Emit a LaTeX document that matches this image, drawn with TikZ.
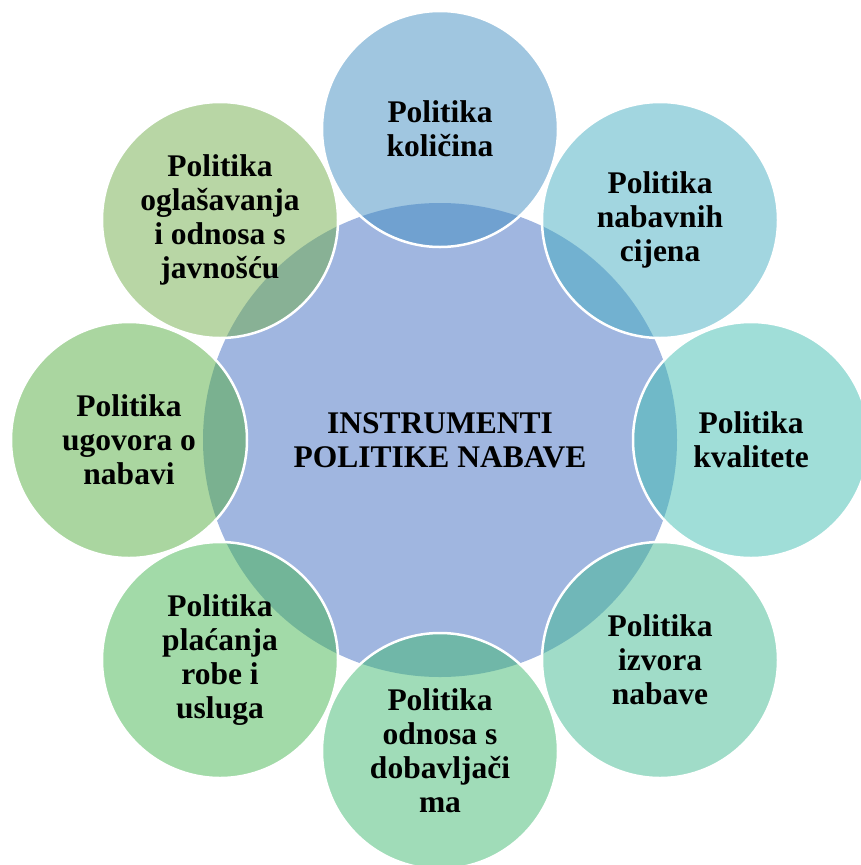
\documentclass[tikz,border=0pt]{standalone}
\usepackage{fontspec}
\setmainfont{Liberation Serif}[BoldFont={Liberation Serif Bold}]
\definecolor{cctr}{RGB}{160,182,224}
\definecolor{sa}{RGB}{65,141,193}
\definecolor{sb}{RGB}{69,173,193}
\definecolor{sc}{RGB}{65,189,177}
\definecolor{sd}{RGB}{65,185,145}
\definecolor{se}{RGB}{65,185,113}
\definecolor{sf}{RGB}{69,181,81}
\definecolor{sg}{RGB}{85,173,65}
\definecolor{sh}{RGB}{113,173,75}
\begin{document}
\begin{tikzpicture}[x=1pt,y=-1pt,
  lbl/.style={align=center,inner sep=0pt,text=black,text opacity=1,
    font=\rmfamily\bfseries\fontsize{31.5}{34}\selectfont},
  hub/.style={circle,minimum size=474pt,fill=cctr,draw=none,lbl},
  sat/.style={circle,minimum size=236pt,fill=#1,fill opacity=0.5,
    draw=white,draw opacity=1,line width=2.5pt,lbl}]
\path[use as bounding box] (0,0) rectangle (861,865);
\clip (0,0) rectangle (861,865);
\node[hub] (ctr) at (440,440) {INSTRUMENTI\\POLITIKE NABAVE};
\node[sat=sa] (s1) at (440,129) {Politika\\količina};
\node[sat=sb] (s2) at (660,220) {Politika\\nabavnih\\cijena};
\node[sat=sc] (s3) at (751,440) {Politika\\kvalitete};
\node[sat=sd] (s4) at (660,660) {Politika\\izvora\\nabave};
\node[sat=se] (s5) at (440,751) {Politika\\odnosa s\\dobavljači\\ma};
\node[sat=sf] (s6) at (220,660) {Politika\\plaćanja\\robe i\\usluga};
\node[sat=sg] (s7) at (129,440) {Politika\\ugovora o\\nabavi};
\node[sat=sh] (s8) at (220,220) {Politika\\oglašavanja\\i odnosa s\\javnošću};
\end{tikzpicture}
\end{document}
